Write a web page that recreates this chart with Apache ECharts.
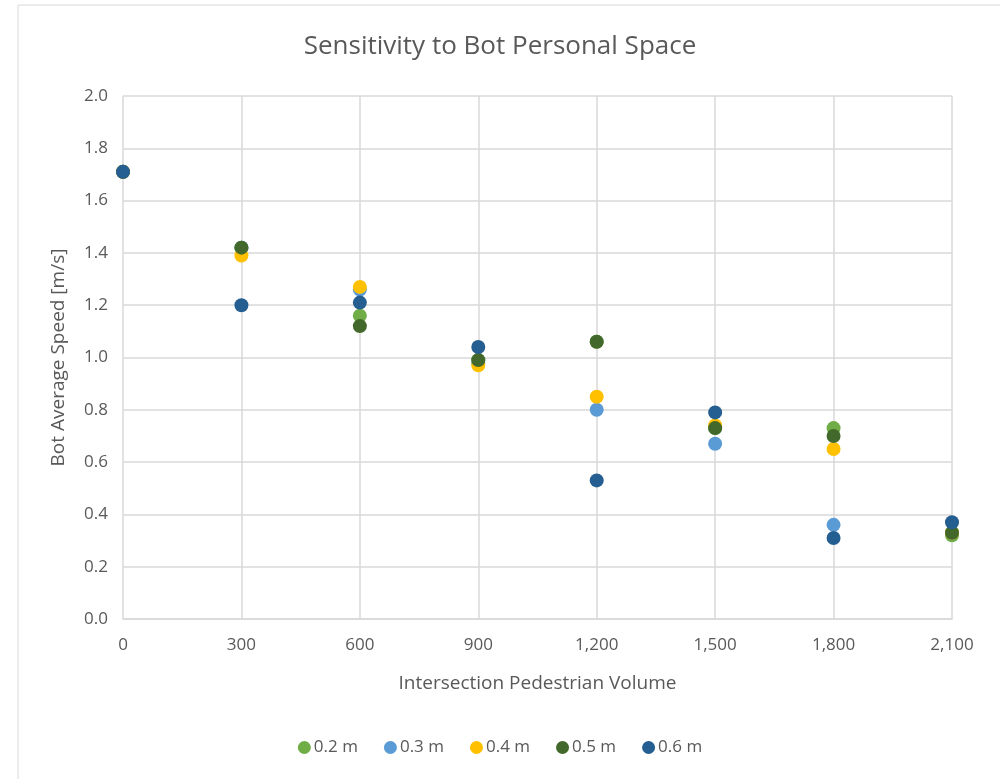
<!DOCTYPE html>
<html>
<head>
<meta charset="utf-8">
<style>
  html, body { margin: 0; padding: 0; background: #fff; }
  #chart { width: 1000px; height: 779px; }
</style>
<script src="https://cdn.jsdelivr.net/npm/echarts@6/dist/echarts.min.js"></script>
</head>
<body>
<div id="chart"></div>
<script>
// Pedestrian volume at the intersection (x values)
const volumes = [0, 300, 600, 900, 1200, 1500, 1800, 2100];

// Bot average speed [m/s] for each personal-space setting
const space02 = [1.71, 1.42, 1.16, 0.99, 1.06, 0.73, 0.73, 0.32];
const space03 = [1.71, 1.42, 1.26, 0.98, 0.80, 0.67, 0.36, 0.33];
const space04 = [1.71, 1.39, 1.27, 0.97, 0.85, 0.74, 0.65, 0.33];
const space05 = [1.71, 1.42, 1.12, 0.99, 1.06, 0.73, 0.70, 0.33];
const space06 = [1.71, 1.20, 1.21, 1.04, 0.53, 0.79, 0.31, 0.37];

const seriesNames = ['0.2 m', '0.3 m', '0.4 m', '0.5 m', '0.6 m'];
const seriesValues = [space02, space03, space04, space05, space06];
const seriesColors = ['#70AD47', '#5B9BD5', '#FFC000', '#43682B', '#255E91'];

const FONT = '"Open Sans", "Noto Sans", sans-serif';
const TEXT = '#595959';
const GRID = '#d9d9d9';

const chart = echarts.init(document.getElementById('chart'), null, { renderer: 'canvas' });

chart.setOption({
  backgroundColor: '#ffffff',
  animation: false,
  textStyle: { fontFamily: FONT },
  graphic: [{
    type: 'rect',
    shape: { x: 18, y: 5, width: 1000, height: 800 },
    style: { fill: 'none', stroke: GRID, lineWidth: 1 },
    silent: true
  }],
  title: {
    text: 'Sensitivity to Bot Personal Space',
    left: 'center',
    top: 29,
    textStyle: { fontFamily: FONT, fontSize: 26, fontWeight: 'normal', color: TEXT }
  },
  grid: { left: 123, right: 48, top: 96, bottom: 160, containLabel: false },
  legend: {
    bottom: 18,
    left: 'center',
    icon: 'circle',
    itemWidth: 13,
    itemHeight: 13,
    itemGap: 26,
    textStyle: { fontFamily: FONT, fontSize: 17, color: TEXT, padding: [0, 0, 0, -2] },
    data: seriesNames
  },
  xAxis: {
    type: 'value',
    min: 0,
    max: 2100,
    interval: 300,
    name: 'Intersection Pedestrian Volume',
    nameLocation: 'middle',
    nameGap: 55,
    nameTextStyle: { fontFamily: FONT, fontSize: 19, color: TEXT },
    axisLine: { show: true, lineStyle: { color: GRID, width: 1.5 } },
    axisTick: { show: false },
    axisLabel: {
      fontFamily: FONT, fontSize: 17, color: TEXT, margin: 18,
      formatter: v => v.toLocaleString('en-US')
    },
    splitLine: { show: true, lineStyle: { color: GRID, width: 1.5 } }
  },
  yAxis: {
    type: 'value',
    min: 0,
    max: 2,
    interval: 0.2,
    name: 'Bot Average Speed [m/s]',
    nameLocation: 'middle',
    nameGap: 55,
    nameTextStyle: { fontFamily: FONT, fontSize: 19, color: TEXT },
    axisLine: { show: false },
    axisTick: { show: false },
    axisLabel: {
      fontFamily: FONT, fontSize: 17, color: TEXT, margin: 15,
      formatter: v => v.toFixed(1)
    },
    splitLine: { show: true, lineStyle: { color: GRID, width: 1.5 } }
  },
  series: seriesNames.map((name, i) => ({
    name: name,
    type: 'scatter',
    symbol: 'circle',
    symbolSize: 14,
    itemStyle: { color: seriesColors[i], opacity: 1 },
    data: volumes.map((x, j) => [x, seriesValues[i][j]])
  }))
});
</script>
</body>
</html>
